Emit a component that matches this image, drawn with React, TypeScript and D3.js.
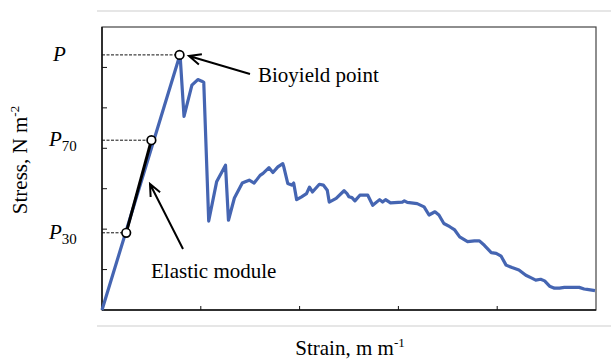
import React from 'react';
import * as d3 from 'd3';

const width = 611;
const height = 359;
const margin = { top: 27, right: 15, bottom: 49, left: 102 };
const innerW = width - margin.left - margin.right;
const innerH = height - margin.top - margin.bottom;

// strain (x) and stress (y)
const strain = [
  0, 0.79, 0.83, 0.91, 0.97, 1.01, 1.03, 1.08, 1.16, 1.25, 1.28, 1.34, 1.42, 1.45, 1.49,
  1.54, 1.60, 1.63, 1.69, 1.73, 1.78, 1.83, 1.84, 1.88, 1.92, 1.94, 1.97, 2.02, 2.07,
  2.10, 2.13, 2.20, 2.24, 2.28, 2.30, 2.37, 2.45, 2.48, 2.50, 2.53, 2.56, 2.61, 2.69,
  2.74, 2.81, 2.84, 2.87, 2.92, 3.04, 3.06, 3.09, 3.19, 3.26, 3.31, 3.37, 3.41, 3.46,
  3.52, 3.57, 3.62, 3.70, 3.77, 3.82, 3.87, 3.94, 3.99, 4.04, 4.09, 4.15, 4.22, 4.29,
  4.34, 4.39, 4.44, 4.48, 4.53, 4.58, 4.63, 4.68, 4.83, 4.88, 4.91, 4.99
];
const stress = [
  0, 6.32, 4.79, 5.56, 5.70, 5.66, 5.63, 2.20, 3.17, 3.58, 2.22, 2.77, 3.14, 3.17, 3.21,
  3.14, 3.33, 3.38, 3.52, 3.40, 3.54, 3.62, 3.54, 3.13, 3.09, 3.14, 2.73, 2.80, 2.88,
  3.04, 2.92, 3.11, 3.09, 2.96, 2.67, 2.76, 2.95, 2.88, 2.80, 2.78, 2.70, 2.84, 2.84,
  2.59, 2.73, 2.67, 2.73, 2.65, 2.67, 2.70, 2.66, 2.63, 2.55, 2.35, 2.43, 2.35, 2.14,
  2.06, 1.98, 1.81, 1.69, 1.71, 1.71, 1.60, 1.42, 1.40, 1.33, 1.11, 1.05, 0.99, 0.86,
  0.80, 0.74, 0.76, 0.72, 0.59, 0.54, 0.54, 0.56, 0.56, 0.52, 0.51, 0.48
];

// marked points: P30, P70, P (bioyield)
const markLabels = ['30', '70', ''];
const markStrain = [0.245, 0.5, 0.785];
const markStress = [1.91, 4.2, 6.31];

const x = d3.scaleLinear().domain([0, 5]).range([0, innerW]);
const y = d3.scaleLinear().domain([0, 7]).range([innerH, 0]);

const curve = d3.line<number>()
  .x((d, i) => x(strain[i]))
  .y((d) => y(d));

const serif = '"Liberation Serif", "Times New Roman", serif';
const blue = '#4565b2';

// arrow: shaft from tail to tip, open V head at the tip
const arrow = (x1: number, y1: number, x2: number, y2: number) => {
  const a = Math.atan2(y2 - y1, x2 - x1);
  const len = 13;
  const spread = 0.42;
  const h1 = [x2 - len * Math.cos(a - spread), y2 - len * Math.sin(a - spread)];
  const h2 = [x2 - len * Math.cos(a + spread), y2 - len * Math.sin(a + spread)];
  return `M${x1},${y1}L${x2},${y2}M${h1[0]},${h1[1]}L${x2},${y2}L${h2[0]},${h2[1]}`;
};

export default function App() {
  const px = markStrain.map((s) => x(s));
  const py = markStress.map((s) => y(s));
  return (
    <svg width={width} height={height} style={{ position: 'absolute', left: 0, top: 0 }}
      fontFamily={serif}>
      <rect width={width} height={height} fill="white" />
      <line x1={97} x2={611} y1={11} y2={11} stroke="#e6e6e6" strokeWidth={2} />
      <line x1={97} x2={611} y1={326} y2={326} stroke="#e6e6e6" strokeWidth={2} />
      <g transform={`translate(${margin.left},${margin.top})`}>
        <rect width={innerW} height={innerH} fill="none" stroke="#444" strokeWidth={1.2} />
        <line x1={0} x2={innerW} y1={innerH} y2={innerH} stroke="#111" strokeWidth={1.5} />
        <line x1={0} x2={0} y1={0} y2={innerH} stroke="#111" strokeWidth={1.5} />
        {y.ticks(7).filter((t) => t > 0 && t < 7).map((t) => (
          <line key={'y' + t} x1={0} x2={5} y1={y(t)} y2={y(t)} stroke="#111" strokeWidth={1} />
        ))}
        {x.ticks(5).filter((t) => t > 0 && t < 5).map((t) => (
          <line key={'x' + t} x1={x(t)} x2={x(t)} y1={innerH} y2={innerH - 4} stroke="#111" strokeWidth={1} />
        ))}
        {/* dashed guides to the marked points */}
        {px.map((p, i) => (
          <line key={'d' + i} x1={0} x2={p} y1={py[i]} y2={py[i]} stroke="#111"
            strokeWidth={1} strokeDasharray="3,1.5" />
        ))}
        <path d={curve(stress) || ''} fill="none" stroke={blue} strokeWidth={3.2}
          strokeLinejoin="round" />
        <line x1={px[0]} y1={py[0]} x2={px[1]} y2={py[1]} stroke="#000" strokeWidth={3} />
        {px.map((p, i) => (
          <circle key={'c' + i} cx={p} cy={py[i]} r={4.3} fill="white" stroke="#000" strokeWidth={1.7} />
        ))}
      </g>
      {/* P labels */}
      {py.map((p, i) => (
        <text key={'l' + i} x={i === 2 ? 53 : 49} y={margin.top + p + 6} fontSize={21}
          fontStyle="italic">
          P
          {markLabels[i] && (
            <tspan fontStyle="normal" fontSize={15} dy={5}>{markLabels[i]}</tspan>
          )}
        </text>
      ))}
      <path d={arrow(250, 74, 189, 56)} fill="none" stroke="#000" strokeWidth={2} />
      <text x={258} y={82} fontSize={21}>Bioyield point</text>
      <path d={arrow(183, 249, 150, 184)} fill="none" stroke="#000" strokeWidth={2} />
      <text x={151} y={278} fontSize={21}>Elastic module</text>
      <text transform="translate(27,160) rotate(-90)" textAnchor="middle" fontSize={21}>
        Stress, N m<tspan fontSize={13} dy={-8}>-2</tspan>
      </text>
      <text x={350} y={355} textAnchor="middle" fontSize={21}>
        Strain, m m<tspan fontSize={13} dy={-8}>-1</tspan>
      </text>
    </svg>
  );
}
